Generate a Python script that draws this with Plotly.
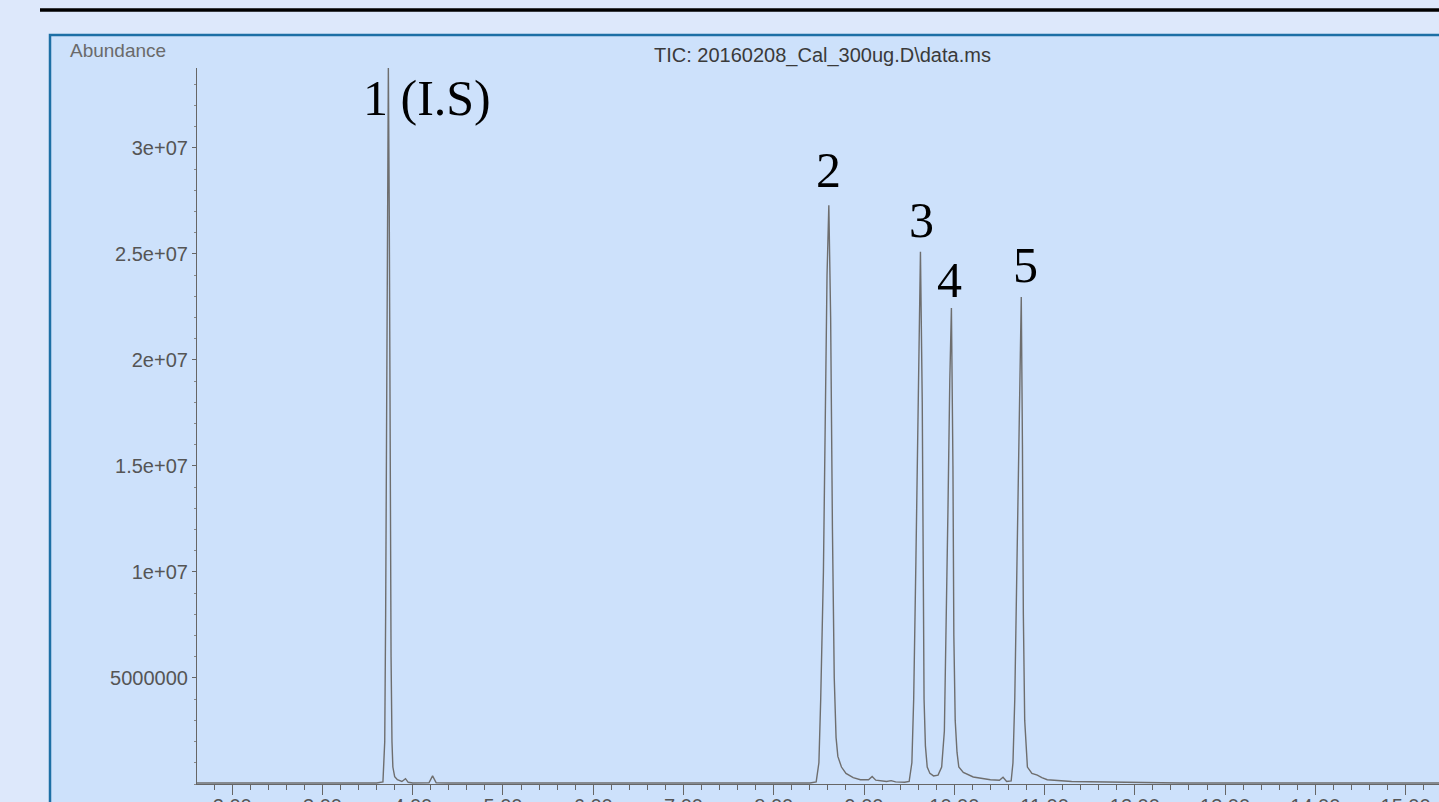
import plotly.graph_objects as go

# Retention time (min) and abundance
time_min = [1.61, 3.60, 3.67, 3.69, 3.70, 3.71, 3.72, 3.73, 3.74, 3.75, 3.76, 3.77, 3.78, 3.80,
            3.83, 3.88, 3.92, 3.95, 4.00, 4.18, 4.22, 4.26, 4.40, 6.00, 8.40, 8.47, 8.50, 8.52,
            8.55, 8.57, 8.59, 8.61, 8.63, 8.65, 8.67, 8.69, 8.71, 8.75, 8.80, 8.88, 8.96, 9.05,
            9.09, 9.13, 9.25, 9.30, 9.35, 9.45, 9.50, 9.53, 9.55, 9.575, 9.60, 9.625, 9.645,
            9.655, 9.665, 9.68, 9.70, 9.73, 9.77, 9.82, 9.86, 9.89, 9.91, 9.93, 9.95, 9.968,
            9.985, 9.995, 10.01, 10.03, 10.05, 10.10, 10.21, 10.40, 10.50, 10.54, 10.58, 10.63,
            10.65, 10.67, 10.695, 10.72, 10.742, 10.755, 10.765, 10.78, 10.81, 10.86, 10.92,
            10.97, 11.03, 11.30, 11.80, 12.50, 15.40]
abundance = [0.05e6, 0.05e6, 0.1e6, 2.0e6, 8.0e6, 18.0e6, 28.0e6, 33.8e6, 27.0e6, 15.0e6,
             6.0e6, 2.0e6, 0.8e6, 0.35e6, 0.2e6, 0.12e6, 0.25e6, 0.08e6, 0.05e6, 0.06e6,
             0.38e6, 0.06e6, 0.05e6, 0.05e6, 0.05e6, 0.1e6, 1.0e6, 4.0e6, 10.0e6, 17.0e6,
             24.0e6, 27.3e6, 22.0e6, 12.0e6, 5.0e6, 2.2e6, 1.3e6, 0.8e6, 0.5e6, 0.3e6, 0.2e6,
             0.2e6, 0.35e6, 0.18e6, 0.12e6, 0.16e6, 0.1e6, 0.08e6, 0.12e6, 1.0e6, 4.0e6,
             10.6e6, 19.0e6, 25.1e6, 18.0e6, 10.6e6, 4.0e6, 1.8e6, 0.8e6, 0.5e6, 0.38e6,
             0.42e6, 0.8e6, 2.5e6, 7.0e6, 13.0e6, 19.0e6, 22.45e6, 15.0e6, 7.0e6, 3.0e6,
             1.5e6, 0.8e6, 0.55e6, 0.33e6, 0.2e6, 0.18e6, 0.32e6, 0.12e6, 0.15e6, 1.0e6,
             4.0e6, 10.6e6, 18.0e6, 22.97e6, 16.0e6, 8.0e6, 3.0e6, 0.8e6, 0.5e6, 0.42e6,
             0.3e6, 0.2e6, 0.12e6, 0.08e6, 0.05e6, 0.05e6]

y_tick_values = [5e6, 1e7, 1.5e7, 2e7, 2.5e7, 3e7]
y_tick_labels = ["5000000", "1e+07", "1.5e+07", "2e+07", "2.5e+07", "3e+07"]
peak_labels = ["1 (I.S)", "2", "3", "4", "5"]
chart_title = "TIC: 20160208_Cal_300ug.D\\data.ms"
y_title = "Abundance"

fig = go.Figure()
fig.add_trace(go.Scatter(x=time_min, y=abundance, mode="lines",
                         line=dict(color="#6e6e6e", width=1.4), hoverinfo="x+y"))

ann_pos = [(4.155, 3.236e7), (8.61, 2.894e7), (9.636, 2.658e7), (9.95, 2.379e7), (10.79, 2.448e7)]
annotations = []
for txt, (ax, ay) in zip(peak_labels, ann_pos):
    annotations.append(dict(x=ax, y=ay, xref="x", yref="y", text=txt, showarrow=False,
                            xanchor="center", yanchor="middle",
                            font=dict(family="Liberation Serif", size=50, color="#000000")))
annotations.append(dict(x=(822 - 197) / 1242, y=(784 - 55) / 716, xref="paper", yref="paper",
                        text=chart_title, showarrow=False, xanchor="center", yanchor="middle",
                        font=dict(family="Liberation Sans", size=20, color="#3a3a3a")))
annotations.append(dict(x=(68 - 197) / 1242, y=(784 - 50) / 716, xref="paper", yref="paper",
                        text=y_title, showarrow=False, xanchor="left", yanchor="middle",
                        font=dict(family="Liberation Sans", size=19, color="#6a6a6a")))

shapes = [
    dict(type="rect", xref="paper", yref="paper", x0=(50 - 197) / 1242, x1=1.2,
         y0=-0.2, y1=(784 - 35) / 716, fillcolor="#cde1fb",
         line=dict(color="#1d6fa5", width=2.5), layer="below"),
    dict(type="line", xref="paper", yref="paper", x0=(40 - 197) / 1242, x1=1.2,
         y0=(784 - 10) / 716, y1=(784 - 10) / 716, line=dict(color="#000000", width=3.5),
         layer="below"),
]

fig.update_layout(
    width=1439, height=802, autosize=False,
    margin=dict(l=197, r=0, t=68, b=18, autoexpand=False),
    paper_bgcolor="#dde8fb", plot_bgcolor="rgba(0,0,0,0)",
    showlegend=False, annotations=annotations, shapes=shapes,
    font=dict(family="Liberation Sans", size=20, color="#555555"),
)
fig.update_xaxes(range=[1.61, 15.37], showgrid=False, zeroline=False, showline=True,
                 automargin=False, ticklabelstandoff=-6,
                 linecolor="#666666", linewidth=1.2, ticks="outside", ticklen=10,
                 tickcolor="#666666", dtick=1, tick0=0, tickformat=".2f",
                 tickfont=dict(size=20, color="#555555"),
                 minor=dict(dtick=0.2, ticklen=5, ticks="outside", tickcolor="#666666"))
fig.update_yaxes(range=[0, 3.377e7], showgrid=False, zeroline=False, showline=True,
                 automargin=False,
                 linecolor="#666666", linewidth=1.2, ticks="outside", ticklen=4,
                 tickcolor="#666666", tickvals=y_tick_values, ticktext=y_tick_labels,
                 tickfont=dict(size=20, color="#555555"),
                 minor=dict(dtick=1e6, ticklen=2, ticks="outside", tickcolor="#888888"))

fig.write_html("out.html", config={"displayModeBar": False},
               post_script="document.body.style.margin='0';"
                           "document.body.style.overflow='hidden';"
                           "document.body.style.background='#dde8fb';")
